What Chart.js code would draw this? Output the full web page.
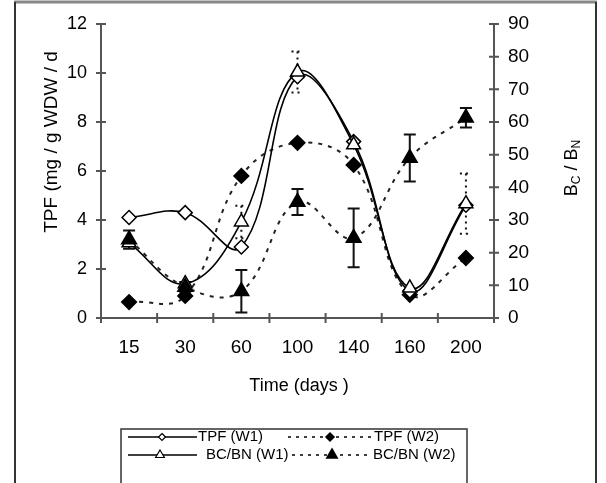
<!DOCTYPE html>
<html>
<head>
<meta charset="utf-8">
<script src="https://cdn.jsdelivr.net/npm/chart.js@4.4.1/dist/chart.umd.min.js"></script>
<style>
  body { margin: 0; background: #fff; }
  #wrap { width: 606px; height: 483px; position: relative; }
</style>
</head>
<body>
<div id="wrap"><canvas id="tpfChart" width="606" height="483"></canvas></div>
<script>
// --- data ---
const days = ['15', '30', '60', '100', '140', '160', '200'];
const tpfW1 = [4.1, 4.3, 2.9, 9.85, 7.2, 1.1, 4.6];
const tpfW2 = [0.65, 0.9, 5.8, 7.15, 6.25, 0.95, 2.45];
const bcbnW1 = [23, 10.5, 29.4, 75.3, 53, 9.2, 35];
const bcbnW1Err = [0, 0, 5, 6.3, 0, 0, 9.2];
const bcbnW2 = [24, 9.5, 8.2, 35.5, 24.5, 49, 61.3];
const bcbnW2Err = [2.8, 1.5, 6.5, 4, 9, 7.2, 3];
const leftTicks = [0, 2, 4, 6, 8, 10, 12];
const rightTicks = [0, 10, 20, 30, 40, 50, 60, 70, 80, 90];

const FONT = "'Liberation Sans', Arial, sans-serif";
const AXIS = '#555';

// axes lines, crossing tick marks, error bars (under the markers)
const underlay = {
  id: 'underlay',
  beforeDatasetsDraw(chart) {
    const ctx = chart.ctx;
    const x = chart.scales.x, y = chart.scales.y, y2 = chart.scales.y2;
    const a = chart.chartArea;
    ctx.save();
    ctx.strokeStyle = AXIS;
    ctx.lineWidth = 2;
    ctx.beginPath();
    ctx.moveTo(a.left, a.top); ctx.lineTo(a.left, a.bottom); ctx.lineTo(a.right, a.bottom);
    ctx.moveTo(a.right, a.top); ctx.lineTo(a.right, a.bottom);
    leftTicks.forEach(v => { const p = y.getPixelForValue(v); ctx.moveTo(a.left - 5, p); ctx.lineTo(a.left + 5, p); });
    rightTicks.forEach(v => { const p = y2.getPixelForValue(v); ctx.moveTo(a.right - 5, p); ctx.lineTo(a.right + 5, p); });
    const w = (a.right - a.left) / days.length;
    for (let i = 0; i <= days.length; i++) {
      const p = a.left + i * w;
      ctx.moveTo(p, a.bottom - 5); ctx.lineTo(p, a.bottom + 5);
    }
    ctx.stroke();

    // error bars W2 (solid)
    ctx.strokeStyle = '#111';
    ctx.lineWidth = 2;
    ctx.beginPath();
    bcbnW2.forEach((v, i) => {
      const px = x.getPixelForValue(i);
      const top = y2.getPixelForValue(v + bcbnW2Err[i]);
      const bot = y2.getPixelForValue(v - bcbnW2Err[i]);
      ctx.moveTo(px, top); ctx.lineTo(px, bot);
      ctx.moveTo(px - 6, top); ctx.lineTo(px + 6, top);
      ctx.moveTo(px - 6, bot); ctx.lineTo(px + 6, bot);
    });
    ctx.stroke();

    // error bars W1 (dotted)
    ctx.setLineDash([2, 4]);
    ctx.beginPath();
    bcbnW1.forEach((v, i) => {
      if (!bcbnW1Err[i]) return;
      const px = x.getPixelForValue(i);
      const top = y2.getPixelForValue(v + bcbnW1Err[i]);
      const bot = y2.getPixelForValue(v - bcbnW1Err[i]);
      ctx.moveTo(px, top); ctx.lineTo(px, bot);
      ctx.moveTo(px - 6, top); ctx.lineTo(px + 6, top);
      ctx.moveTo(px - 6, bot); ctx.lineTo(px + 6, bot);
    });
    ctx.stroke();
    ctx.restore();
  }
};

function diamond(ctx, cx, cy, r, fill) {
  ctx.beginPath();
  ctx.moveTo(cx, cy - r); ctx.lineTo(cx + r, cy); ctx.lineTo(cx, cy + r); ctx.lineTo(cx - r, cy); ctx.closePath();
  ctx.fillStyle = fill; ctx.fill(); ctx.stroke();
}
function triangle(ctx, cx, cy, r, fill) {
  ctx.beginPath();
  ctx.moveTo(cx, cy - r); ctx.lineTo(cx + r * 0.87, cy + r * 0.5); ctx.lineTo(cx - r * 0.87, cy + r * 0.5); ctx.closePath();
  ctx.fillStyle = fill; ctx.fill(); ctx.stroke();
}

// frame, axis titles, legend box
const overlay = {
  id: 'overlay',
  afterDraw(chart) {
    const ctx = chart.ctx;
    ctx.save();
    // outer frame
    ctx.strokeStyle = '#888'; ctx.lineWidth = 3;
    ctx.beginPath(); ctx.moveTo(14, 2); ctx.lineTo(597, 2); ctx.stroke();
    ctx.strokeStyle = '#333'; ctx.lineWidth = 2;
    ctx.beginPath(); ctx.moveTo(15, 2); ctx.lineTo(15, 483); ctx.moveTo(596, 2); ctx.lineTo(596, 483); ctx.stroke();

    // axis titles
    ctx.fillStyle = '#000';
    ctx.textAlign = 'center'; ctx.textBaseline = 'middle';
    ctx.font = '18px ' + FONT;
    ctx.fillText('Time (days )', 299, 386);

    ctx.save();
    ctx.translate(52, 142); ctx.rotate(-Math.PI / 2);
    ctx.font = '19px ' + FONT;
    ctx.fillText('TPF (mg / g WDW / d', 0, 0);
    ctx.restore();

    ctx.save();
    ctx.translate(572, 168); ctx.rotate(-Math.PI / 2);
    const big = '18px ' + FONT, small = '12px ' + FONT;
    const parts = [['B', big, 0], ['C', small, 5], [' / ', big, 0], ['B', big, 0], ['N', small, 5]];
    let total = 0;
    parts.forEach(p => { ctx.font = p[1]; total += ctx.measureText(p[0]).width; });
    let cx = -total / 2;
    ctx.textAlign = 'left';
    parts.forEach(p => { ctx.font = p[1]; ctx.fillText(p[0], cx, p[2]); cx += ctx.measureText(p[0]).width; });
    ctx.restore();

    // legend
    ctx.strokeStyle = '#333'; ctx.lineWidth = 1.5;
    ctx.strokeRect(121, 429, 346, 70);
    ctx.font = '15px ' + FONT;
    ctx.textAlign = 'left';
    const r1 = 437, r2 = 455;
    ctx.strokeStyle = '#000'; ctx.lineWidth = 1.5;
    ctx.beginPath(); ctx.moveTo(128, r1); ctx.lineTo(197, r1); ctx.moveTo(128, r2); ctx.lineTo(197, r2); ctx.stroke();
    ctx.lineWidth = 1.2;
    diamond(ctx, 162, r1, 3.5, '#fff');
    triangle(ctx, 160, r2, 5, '#fff');
    ctx.fillStyle = '#000';
    ctx.fillText('TPF (W1)', 198, r1);
    ctx.fillText('BC/BN (W1)', 206, r2);
    ctx.setLineDash([3, 5]); ctx.lineWidth = 1.5;
    ctx.beginPath(); ctx.moveTo(288, r1); ctx.lineTo(373, r1); ctx.moveTo(292, r2); ctx.lineTo(372, r2); ctx.stroke();
    ctx.setLineDash([]);
    diamond(ctx, 330, r1, 4, '#000');
    triangle(ctx, 332, r2, 6, '#000');
    ctx.fillStyle = '#000';
    ctx.fillText('TPF (W2)', 374, r1);
    ctx.fillText('BC/BN (W2)', 373, r2);
    ctx.restore();
  }
};

new Chart(document.getElementById('tpfChart'), {
  type: 'line',
  data: {
    labels: days,
    datasets: [
      {
        label: 'BC/BN (W2)',
        data: bcbnW2,
        yAxisID: 'y2',
        order: 0,
        borderColor: '#222',
        borderWidth: 2,
        borderDash: [4, 6],
        tension: 0.4,
        pointStyle: 'triangle',
        pointRadius: 8,
        pointBackgroundColor: '#000',
        pointBorderColor: '#000'
      },
      {
        label: 'BC/BN (W1)',
        data: bcbnW1,
        yAxisID: 'y2',
        order: 1,
        borderColor: '#000',
        borderWidth: 1.6,
        tension: 0.4,
        pointStyle: 'triangle',
        pointRadius: 8,
        pointBorderWidth: 1.5,
        pointBackgroundColor: '#fff',
        pointBorderColor: '#000'
      },
      {
        label: 'TPF (W1)',
        data: tpfW1,
        yAxisID: 'y',
        order: 2,
        borderColor: '#000',
        borderWidth: 1.6,
        tension: 0.4,
        pointStyle: 'rectRot',
        pointRadius: 7,
        pointBorderWidth: 1.5,
        pointBackgroundColor: '#fff',
        pointBorderColor: '#000'
      },
      {
        label: 'TPF (W2)',
        data: tpfW2,
        yAxisID: 'y',
        order: 3,
        borderColor: '#222',
        borderWidth: 2,
        borderDash: [4, 6],
        tension: 0.4,
        pointStyle: 'rectRot',
        pointRadius: 7,
        pointBackgroundColor: '#000',
        pointBorderColor: '#000'
      }
    ]
  },
  options: {
    responsive: false,
    animation: false,
    devicePixelRatio: 1,
    layout: { padding: { top: 24, left: 0, right: 0, bottom: 0 } },
    plugins: { legend: { display: false }, tooltip: { enabled: false } },
    scales: {
      x: {
        type: 'category',
        offset: true,
        grid: { display: false },
        border: { display: false },
        ticks: { color: '#000', padding: 10, font: { family: FONT, size: 19 } },
        afterFit: s => { s.height = 165; }
      },
      y: {
        position: 'left',
        min: 0, max: 12,
        afterBuildTicks: s => { s.ticks = leftTicks.map(v => ({ value: v })); },
        grid: { display: false },
        border: { display: false },
        ticks: { color: '#000', padding: 6, font: { family: FONT, size: 18 } },
        afterFit: s => { s.width = 101; }
      },
      y2: {
        position: 'right',
        min: 0, max: 90,
        afterBuildTicks: s => { s.ticks = rightTicks.map(v => ({ value: v })); },
        grid: { display: false },
        border: { display: false },
        ticks: { color: '#000', padding: 6, font: { family: FONT, size: 19 } },
        afterFit: s => { s.width = 112; }
      }
    }
  },
  plugins: [underlay, overlay]
});
</script>
</body>
</html>
